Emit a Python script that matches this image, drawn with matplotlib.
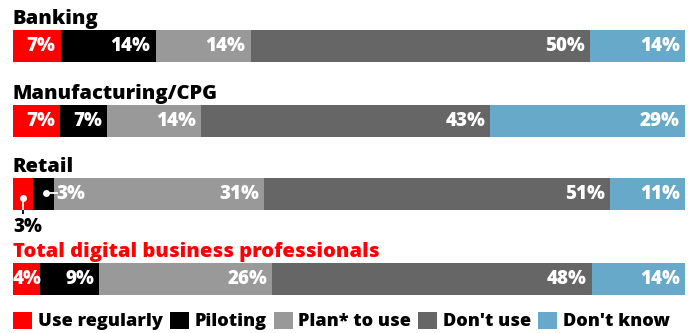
import numpy as np
import matplotlib.pyplot as plt
from matplotlib.patches import Patch

# survey shares per sector, in percent
sectors = ["Banking", "Manufacturing/CPG", "Retail",
           "Total digital business professionals"]
categories = ["Use regularly", "Piloting", "Plan* to use", "Don't use",
              "Don't know"]
use_regularly = [7, 7, 3, 4]
piloting = [14, 7, 3, 9]
plan_to_use = [14, 14, 31, 26]
dont_use = [50, 43, 51, 48]
dont_know = [14, 29, 11, 14]

colors = ["#ff0000", "#000000", "#999999", "#666666", "#67a9c9"]
title_colors = ["black", "black", "black", "#ff0000"]

# layout (pixel rows on a 694x333 canvas)
bar_centers = [46, 121, 194, 279]
bar_height = 32
FONT = "Open Sans"
TITLE_SIZE = 14.5
LABEL_SIZE = 13.5

values = np.array([use_regularly, piloting, plan_to_use, dont_use,
                   dont_know], dtype=float).T

fig = plt.figure(figsize=(6.94, 3.33), dpi=100)
ax = fig.add_axes([13 / 694, 0, 672 / 694, 1])
ax.set_xlim(0, 100)
ax.set_ylim(333, 0)
ax.axis("off")

px = 100 / 672  # data units per pixel along x

for i, row in enumerate(values):
    widths = row / row.sum() * 100
    lefts = np.concatenate([[0], np.cumsum(widths)[:-1]])
    yc = bar_centers[i]
    ax.barh(yc, widths, left=lefts, height=bar_height, color=colors,
            linewidth=0)
    ax.text(0, yc - bar_height / 2 - 1, sectors[i], ha="left", va="bottom",
            fontsize=TITLE_SIZE, fontweight="heavy", family=FONT,
            color=title_colors[i])

    for j, (v, l, w) in enumerate(zip(row, lefts, widths)):
        label = f"{v:.0f}%"
        if sectors[i] == "Retail" and j == 0:
            # callout below the bar
            x0 = l + w / 2
            ax.plot([x0, x0], [yc + 4, yc + bar_height / 2 + 4], color="white",
                    lw=1.3, solid_capstyle="butt")
            ax.plot([x0, x0], [yc + bar_height / 2, yc + bar_height / 2 + 4],
                    color="black", lw=1.3, solid_capstyle="butt")
            ax.plot(x0, yc + 4, "o", color="white", ms=5, mew=0)
            ax.text(0, yc + bar_height / 2 + 7, label, ha="left", va="top",
                    fontsize=LABEL_SIZE, fontweight="heavy", family=FONT,
                    color="black")
        elif sectors[i] == "Retail" and j == 1:
            # callout pointing into the next segment
            x0 = l + w / 2 + 2 * px
            ax.plot([x0, l + w + 3 * px], [yc - 1, yc - 1], color="white",
                    lw=1.3)
            ax.plot(x0, yc - 1, "o", color="white", ms=5, mew=0)
            ax.text(l + w + 3 * px, yc, label, ha="left", va="center",
                    fontsize=LABEL_SIZE, fontweight="heavy", family=FONT,
                    color="white")
        elif v < 5:
            ax.text(l, yc, label, ha="left", va="center", fontsize=LABEL_SIZE,
                    fontweight="heavy", family=FONT, color="white")
        else:
            ax.text(l + w - 5 * px, yc, label, ha="right", va="center",
                    fontsize=LABEL_SIZE, fontweight="heavy", family=FONT,
                    color="white")

handles = [Patch(facecolor=c, edgecolor="none") for c in colors]
ax.legend(handles, categories, loc="center left", bbox_to_anchor=(0, 321),
          bbox_transform=ax.transData, ncol=5, frameon=False, borderpad=0,
          borderaxespad=0, handlelength=1.05, handleheight=1.05,
          handletextpad=0.3, columnspacing=0.4,
          prop={"family": FONT, "weight": "heavy", "size": 13.1})

fig.savefig("out.png", dpi=100)
